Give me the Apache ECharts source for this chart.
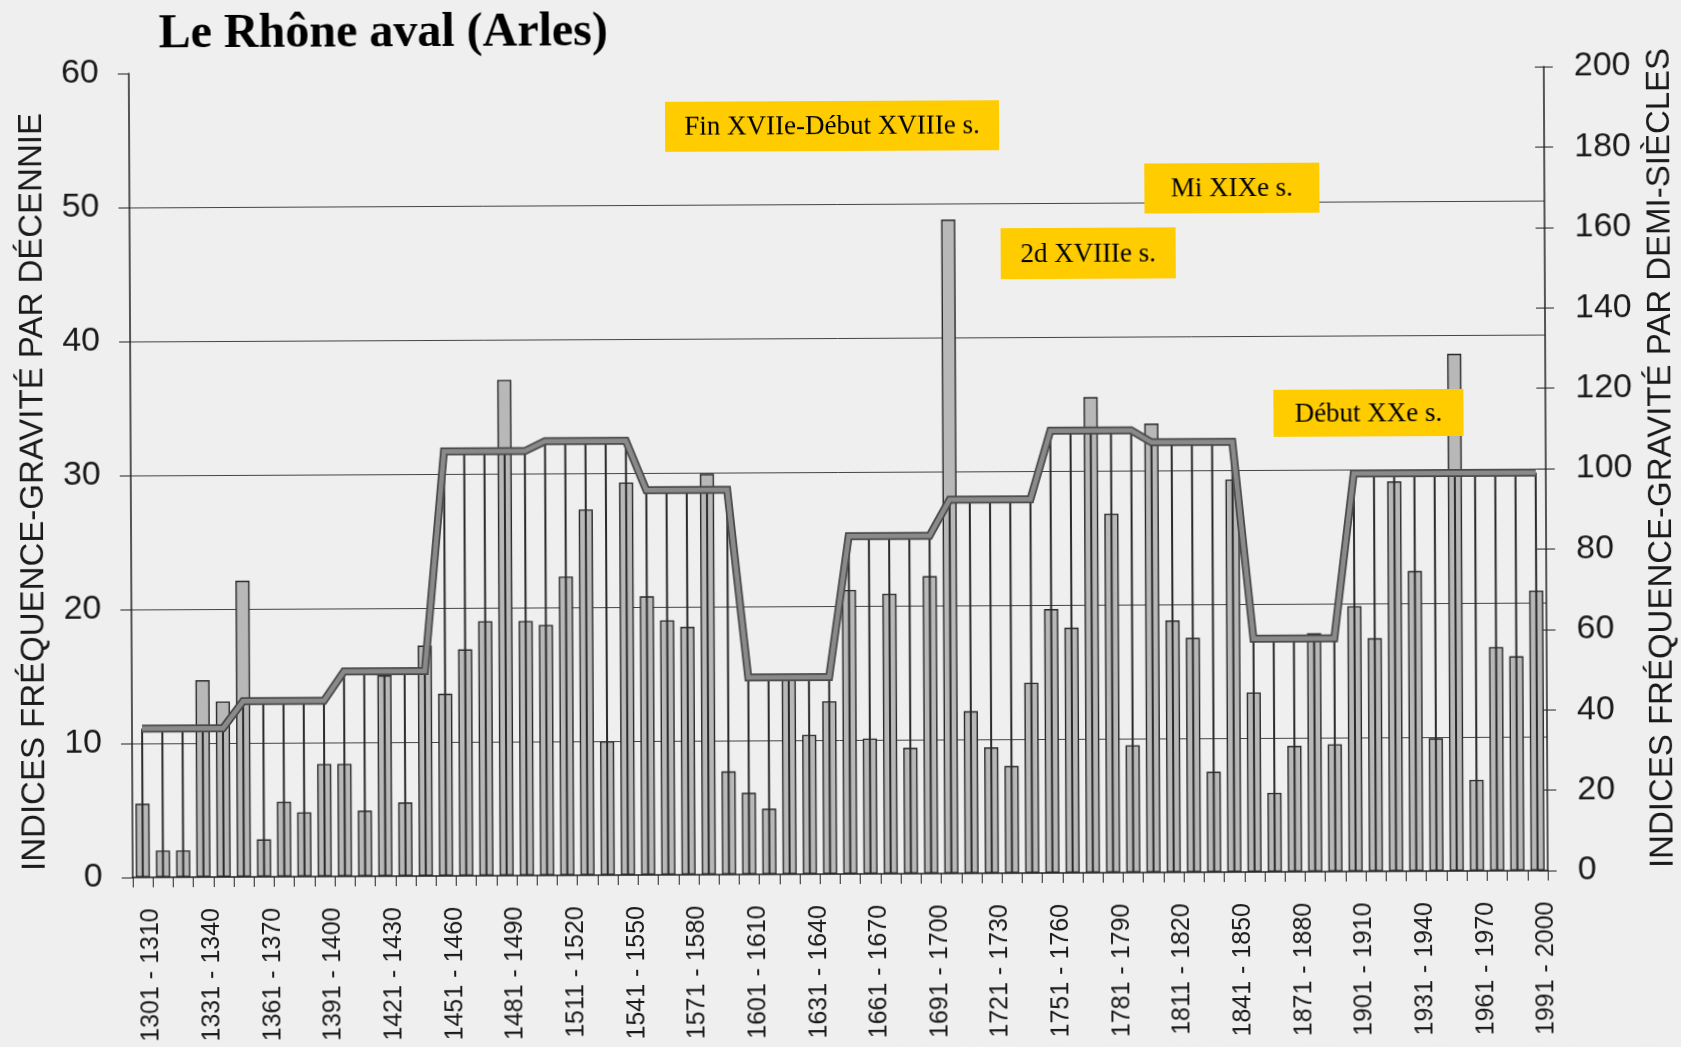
<!DOCTYPE html>
<html><head><meta charset="utf-8">
<script src="https://cdn.jsdelivr.net/npm/echarts@6/dist/echarts.min.js"></script>
<style>
html,body{margin:0;padding:0;background:#efefef;overflow:hidden}
#c{width:1681px;height:1047px;transform:rotate(-0.28deg);transform-origin:840px 523px}
</style>
</head><body><div id="c"></div>
<script>
const decades = [
 '1301 - 1310','1311 - 1320','1321 - 1330','1331 - 1340','1341 - 1350',
 '1351 - 1360','1361 - 1370','1371 - 1380','1381 - 1390','1391 - 1400',
 '1401 - 1410','1411 - 1420','1421 - 1430','1431 - 1440','1441 - 1450',
 '1451 - 1460','1461 - 1470','1471 - 1480','1481 - 1490','1491 - 1500',
 '1501 - 1510','1511 - 1520','1521 - 1530','1531 - 1540','1541 - 1550',
 '1551 - 1560','1561 - 1570','1571 - 1580','1581 - 1590','1591 - 1600',
 '1601 - 1610','1611 - 1620','1621 - 1630','1631 - 1640','1641 - 1650',
 '1651 - 1660','1661 - 1670','1671 - 1680','1681 - 1690','1691 - 1700',
 '1701 - 1710','1711 - 1720','1721 - 1730','1731 - 1740','1741 - 1750',
 '1751 - 1760','1761 - 1770','1771 - 1780','1781 - 1790','1791 - 1800',
 '1801 - 1810','1811 - 1820','1821 - 1830','1831 - 1840','1841 - 1850',
 '1851 - 1860','1861 - 1870','1871 - 1880','1881 - 1890','1891 - 1900',
 '1901 - 1910','1911 - 1920','1921 - 1930','1931 - 1940','1941 - 1950',
 '1951 - 1960','1961 - 1970','1971 - 1980','1981 - 1990','1991 - 2000'
];
// Indices fréquence-gravité par décennie (left axis)
const decadeValues = [
 5.5, 2.0, 2.0, 14.7, 13.1,
 22.1, 2.8, 5.6, 4.8, 8.4,
 8.4, 4.9, 15.0, 5.5, 17.2,
 13.6, 16.9, 19.0, 37.0, 19.0,
 18.7, 22.3, 27.3, 10.0, 29.3,
 20.8, 19.0, 18.5, 29.9, 7.7,
 6.1, 4.9, 14.8, 10.4, 12.9,
 21.2, 10.1, 20.9, 9.4, 22.2,
 48.8, 12.1, 9.4, 8.0, 14.2,
 19.7, 18.3, 35.5, 26.8, 9.5,
 33.5, 18.8, 17.5, 7.5, 29.3,
 13.4, 5.9, 9.4, 17.8, 9.5,
 19.8, 17.4, 29.1, 22.4, 9.9,
 38.6, 6.8, 16.7, 16.0, 20.9
];
// Indices fréquence-gravité par demi-siècle (right axis)
const halfCenturies = ['1301-1350','1351-1400','1401-1450','1451-1500','1501-1550','1551-1600','1601-1650',
 '1651-1700','1701-1750','1751-1800','1801-1850','1851-1900','1901-1950','1951-2000'];
const halfCenturyValues = [37, 43.7, 51, 105.6, 108, 95.7, 49, 84, 93, 110, 107, 58, 99, 99];
const leftTicks = {min: 0, max: 60, interval: 10};
const rightTicks = {min: 0, max: 200, interval: 20};
const annotations = [
 {text: 'Fin XVIIe-Début XVIIIe s.', x: 667, y: 101, w: 334, h: 50},
 {text: 'Mi XIXe s.', x: 1146, y: 165, w: 175, h: 50},
 {text: '2d XVIIIe s.', x: 1002, y: 229, w: 175, h: 51},
 {text: 'Début XXe s.', x: 1274, y: 392, w: 190, h: 47}
];

const perDecadeHalf = decades.map((d, i) => halfCenturyValues[Math.floor(i / 5)]);
const SANS = "'Liberation Sans', Arial, Helvetica, sans-serif";
const SERIF = "'Liberation Serif', 'Times New Roman', serif";

const chart = echarts.init(document.getElementById('c'), null, {renderer: 'canvas'});
const graphics = [];
annotations.forEach(a => {
  graphics.push({type: 'rect', left: a.x, top: a.y, z: 100,
    shape: {width: a.w, height: a.h}, style: {fill: '#FFCC00'}});
  graphics.push({type: 'text', x: a.x + a.w / 2, y: a.y + a.h / 2 + 1, z: 101,
    style: {text: a.text, fill: '#000', font: '27px ' + SERIF, align: 'center', verticalAlign: 'middle'}});
});
graphics.push({type: 'text', x: 34, y: 488, rotation: Math.PI / 2, z: 100,
  style: {text: 'INDICES FRÉQUENCE-GRAVITÉ PAR DÉCENNIE', fill: '#1a1a1a', font: '33px ' + SANS, align: 'center', verticalAlign: 'middle'}});
graphics.push({type: 'text', x: 1662, y: 462, rotation: Math.PI / 2, z: 100,
  style: {text: 'INDICES FRÉQUENCE-GRAVITÉ PAR DEMI-SIÈCLES', fill: '#1a1a1a', font: '33px ' + SANS, align: 'center', verticalAlign: 'middle'}});

chart.setOption({
  backgroundColor: '#efefef',
  animation: false,
  title: {text: 'Le Rhône aval (Arles)', left: 156, top: 3,
    textStyle: {fontFamily: SERIF, fontWeight: 'bold', fontSize: 48, color: '#000'}},
  grid: {left: 131, right: 135, top: 70, bottom: 173, containLabel: false},
  xAxis: [{
    type: 'category', data: decades, boundaryGap: true,
    axisLine: {lineStyle: {color: '#222', width: 1.5}},
    axisTick: {show: true, interval: 0, length: 10, lineStyle: {color: '#222'}},
    axisLabel: {interval: 2, rotate: 90, margin: 31, verticalAlign: 'top', lineHeight: 17,
      fontFamily: SANS, fontSize: 25, color: '#1a1a1a'}
  }, {
    type: 'category', data: decades, show: false
  }],
  yAxis: [{
    type: 'value', position: 'left', min: leftTicks.min, max: leftTicks.max, interval: leftTicks.interval,
    axisLine: {show: true, lineStyle: {color: '#222', width: 1.5}},
    axisTick: {show: true, length: 11, lineStyle: {color: '#222'}},
    axisLabel: {margin: 30, fontFamily: SANS, fontSize: 34, color: '#1a1a1a'},
    splitLine: {show: true, showMinLine: false, showMaxLine: false, lineStyle: {color: '#444', width: 1}}
  }, {
    type: 'value', position: 'right', min: rightTicks.min, max: rightTicks.max, interval: rightTicks.interval,
    axisLine: {show: true, lineStyle: {color: '#222', width: 1.5}},
    axisTick: {show: true, length: 9, lineStyle: {color: '#222'}},
    axisLabel: {margin: 30, fontFamily: SANS, fontSize: 34, color: '#1a1a1a'},
    splitLine: {show: false}
  }, {
    type: 'value', position: 'right', min: rightTicks.min, max: rightTicks.max, interval: rightTicks.interval,
    axisLine: {show: false}, axisLabel: {show: false}, splitLine: {show: false},
    axisTick: {show: true, inside: true, length: 9, lineStyle: {color: '#222'}}
  }],
  series: [{
    name: 'Décennies', type: 'bar', xAxisIndex: 0, yAxisIndex: 0, data: decadeValues,
    barWidth: '70%', z: 2,
    itemStyle: {color: '#b8b8b8', borderColor: '#2a2a2a', borderWidth: 1.4}
  }, {
    name: 'Demi-siècles (tiges)', type: 'bar', xAxisIndex: 1, yAxisIndex: 1, data: perDecadeHalf,
    barWidth: 2, z: 3,
    itemStyle: {color: '#2a2a2a'}
  }, {
    name: 'Demi-siècles', type: 'line', xAxisIndex: 0, yAxisIndex: 1, data: perDecadeHalf,
    symbol: 'none', z: 4,
    lineStyle: {color: '#4a4a4a', width: 8, join: 'miter'}
  }, {
    name: 'Demi-siècles (trait)', type: 'line', xAxisIndex: 0, yAxisIndex: 1, data: perDecadeHalf,
    symbol: 'none', z: 5,
    lineStyle: {color: '#8a8a8a', width: 4.5, join: 'miter'}
  }],
  graphic: graphics
});
</script></body></html>
